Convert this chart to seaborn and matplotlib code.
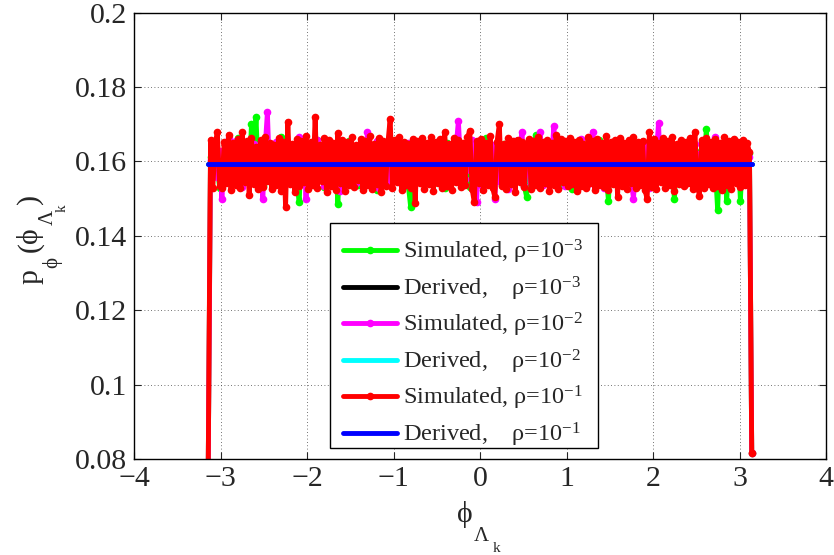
import numpy as np
import matplotlib
matplotlib.use("Agg")
import matplotlib.pyplot as plt
from matplotlib.patches import Rectangle
import seaborn as sns

# phase bins spanning [-pi, pi]
n_bins = 240
phase = np.linspace(-np.pi, np.pi, n_bins)

# simulated pdf values (one list per rho)
sim_rho_1e3 = [
    0.0790, 0.1612, 0.1560, 0.1636, 0.1583, 0.1529, 0.1617, 0.1571, 0.1650, 0.1594,
    0.1540, 0.1625, 0.1588, 0.1662, 0.1553, 0.1608, 0.1575, 0.1639, 0.1546, 0.1700,
    0.1599, 0.1720, 0.1562, 0.1620, 0.1534, 0.1645, 0.1581, 0.1604, 0.1557, 0.1631,
    0.1592, 0.1545, 0.1667, 0.1573, 0.1611, 0.1550, 0.1628, 0.1586, 0.1602, 0.1538,
    0.1492, 0.1644, 0.1579, 0.1615, 0.1556, 0.1633, 0.1590, 0.1547, 0.1658, 0.1570,
    0.1609, 0.1531, 0.1627, 0.1584, 0.1641, 0.1563, 0.1600, 0.1485, 0.1638, 0.1577,
    0.1614, 0.1549, 0.1655, 0.1589, 0.1568, 0.1624, 0.1537, 0.1603, 0.1580, 0.1647,
    0.1558, 0.1618, 0.1574, 0.1632, 0.1524, 0.1597, 0.1646, 0.1565, 0.1613, 0.1541,
    0.1660, 0.1585, 0.1606, 0.1552, 0.1628, 0.1591, 0.1569, 0.1642, 0.1535, 0.1478,
    0.1628, 0.1572, 0.1609, 0.1554, 0.1652, 0.1591, 0.1561, 0.1624, 0.1580, 0.1539,
    0.1642, 0.1598, 0.1563, 0.1617, 0.1528, 0.1649, 0.1586, 0.1607, 0.1547, 0.1631,
    0.1570, 0.1599, 0.1553, 0.1615, 0.1576, 0.1532, 0.1645, 0.1594, 0.1560, 0.1626,
    0.1584, 0.1543, 0.1663, 0.1578, 0.1610, 0.1551, 0.1637, 0.1559, 0.1600, 0.1538,
    0.1648, 0.1582, 0.1619, 0.1555, 0.1605, 0.1567, 0.1629, 0.1574, 0.1611, 0.1533,
    0.1505, 0.1640, 0.1593, 0.1557, 0.1670, 0.1587, 0.1562, 0.1634, 0.1579, 0.1546,
    0.1608, 0.1566, 0.1643, 0.1583, 0.1616, 0.1536, 0.1622, 0.1571, 0.1602, 0.1550,
    0.1525, 0.1638, 0.1590, 0.1566, 0.1623, 0.1544, 0.1611, 0.1580, 0.1647, 0.1558,
    0.1604, 0.1540, 0.1657, 0.1575, 0.1620, 0.1561, 0.1494, 0.1627, 0.1583, 0.1612,
    0.1548, 0.1636, 0.1589, 0.1554, 0.1640, 0.1577, 0.1605, 0.1534, 0.1650, 0.1593,
    0.1568, 0.1622, 0.1542, 0.1609, 0.1587, 0.1646, 0.1560, 0.1615, 0.1576, 0.1633,
    0.1551, 0.1601, 0.1569, 0.1639, 0.1582, 0.1498, 0.1626, 0.1573, 0.1610, 0.1545,
    0.1643, 0.1588, 0.1618, 0.1556, 0.1629, 0.1591, 0.1537, 0.1653, 0.1572, 0.1687,
    0.1598, 0.1552, 0.1625, 0.1579, 0.1470, 0.1641, 0.1584, 0.1608, 0.1495, 0.1632,
    0.1567, 0.1614, 0.1585, 0.1650, 0.1495, 0.1621, 0.1593, 0.1558, 0.1622, 0.0817,
]
sim_rho_1e2 = [
    0.0788, 0.1604, 0.1573, 0.1641, 0.1559, 0.1628, 0.1500, 0.1610, 0.1582, 0.1664,
    0.1543, 0.1597, 0.1655, 0.1570, 0.1615, 0.1532, 0.1639, 0.1584, 0.1606, 0.1548,
    0.1646, 0.1567, 0.1622, 0.1590, 0.1500, 0.1636, 0.1732, 0.1561, 0.1601, 0.1538,
    0.1652, 0.1576, 0.1617, 0.1526, 0.1631, 0.1588, 0.1553, 0.1644, 0.1579, 0.1609,
    0.1665, 0.1557, 0.1620, 0.1500, 0.1638, 0.1585, 0.1612, 0.1548, 0.1658, 0.1572,
    0.1603, 0.1535, 0.1627, 0.1591, 0.1564, 0.1643, 0.1580, 0.1609, 0.1520, 0.1630,
    0.1577, 0.1649, 0.1554, 0.1608, 0.1594, 0.1541, 0.1622, 0.1586, 0.1637, 0.1563,
    0.1680, 0.1549, 0.1617, 0.1574, 0.1654, 0.1530, 0.1609, 0.1581, 0.1626, 0.1537,
    0.1596, 0.1645, 0.1568, 0.1613, 0.1545, 0.1637, 0.1590, 0.1558, 0.1650, 0.1573,
    0.1618, 0.1551, 0.1633, 0.1599, 0.1564, 0.1640, 0.1586, 0.1611, 0.1542, 0.1629,
    0.1618, 0.1557, 0.1605, 0.1571, 0.1644, 0.1536, 0.1616, 0.1583, 0.1552, 0.1640,
    0.1709, 0.1586, 0.1611, 0.1552, 0.1629, 0.1578, 0.1657, 0.1560, 0.1490, 0.1644,
    0.1536, 0.1621, 0.1571, 0.1616, 0.1555, 0.1643, 0.1500, 0.1602, 0.1547, 0.1638,
    0.1612, 0.1586, 0.1525, 0.1621, 0.1588, 0.1654, 0.1557, 0.1627, 0.1680, 0.1534,
    0.1582, 0.1609, 0.1544, 0.1651, 0.1576, 0.1600, 0.1680, 0.1536, 0.1591, 0.1642,
    0.1560, 0.1614, 0.1695, 0.1548, 0.1627, 0.1583, 0.1606, 0.1533, 0.1647, 0.1570,
    0.1559, 0.1639, 0.1585, 0.1556, 0.1660, 0.1574, 0.1619, 0.1540, 0.1632, 0.1680,
    0.1603, 0.1547, 0.1645, 0.1588, 0.1530, 0.1632, 0.1577, 0.1560, 0.1615, 0.1543,
    0.1656, 0.1592, 0.1558, 0.1625, 0.1571, 0.1608, 0.1546, 0.1500, 0.1603, 0.1566,
    0.1607, 0.1549, 0.1645, 0.1588, 0.1530, 0.1632, 0.1577, 0.1615, 0.1703, 0.1556,
    0.1592, 0.1558, 0.1625, 0.1571, 0.1637, 0.1584, 0.1610, 0.1546, 0.1620, 0.1565,
    0.1637, 0.1584, 0.1611, 0.1551, 0.1648, 0.1580, 0.1619, 0.1538, 0.1629, 0.1574,
    0.1602, 0.1545, 0.1633, 0.1665, 0.1567, 0.1612, 0.1540, 0.1626, 0.1587, 0.1649,
    0.1558, 0.1617, 0.1580, 0.1642, 0.1549, 0.1610, 0.1585, 0.1630, 0.1611, 0.0817,
]
sim_rho_1e1 = [
    0.0785, 0.1658, 0.1528, 0.1646, 0.1680, 0.1535, 0.1529, 0.1652, 0.1541, 0.1672,
    0.1522, 0.1649, 0.1537, 0.1661, 0.1530, 0.1680, 0.1545, 0.1655, 0.1510, 0.1663,
    0.1539, 0.1640, 0.1525, 0.1658, 0.1532, 0.1666, 0.1548, 0.1650, 0.1527, 0.1644,
    0.1536, 0.1662, 0.1521, 0.1653, 0.1478, 0.1707, 0.1540, 0.1648, 0.1518, 0.1660,
    0.1533, 0.1656, 0.1544, 0.1669, 0.1526, 0.1651, 0.1538, 0.1720, 0.1529, 0.1645,
    0.1547, 0.1664, 0.1517, 0.1657, 0.1535, 0.1649, 0.1524, 0.1677, 0.1542, 0.1659,
    0.1520, 0.1652, 0.1538, 0.1665, 0.1531, 0.1643, 0.1549, 0.1660, 0.1523, 0.1654,
    0.1537, 0.1668, 0.1527, 0.1647, 0.1540, 0.1663, 0.1519, 0.1656, 0.1534, 0.1650,
    0.1715, 0.1530, 0.1659, 0.1545, 0.1667, 0.1522, 0.1653, 0.1536, 0.1648, 0.1528,
    0.1661, 0.1487, 0.1655, 0.1541, 0.1664, 0.1526, 0.1650, 0.1539, 0.1666, 0.1520,
    0.1652, 0.1543, 0.1660, 0.1529, 0.1680, 0.1535, 0.1647, 0.1524, 0.1662, 0.1546,
    0.1657, 0.1532, 0.1649, 0.1538, 0.1665, 0.1683, 0.1527, 0.1490, 0.1654, 0.1541,
    0.1661, 0.1523, 0.1650, 0.1537, 0.1668, 0.1530, 0.1505, 0.1653, 0.1700, 0.1534,
    0.1646, 0.1526, 0.1663, 0.1540, 0.1656, 0.1519, 0.1659, 0.1544, 0.1651, 0.1531,
    0.1648, 0.1660, 0.1525, 0.1655, 0.1538, 0.1667, 0.1529, 0.1652, 0.1542, 0.1658,
    0.1521, 0.1649, 0.1536, 0.1672, 0.1527, 0.1661, 0.1545, 0.1654, 0.1533, 0.1664,
    0.1539, 0.1651, 0.1520, 0.1658, 0.1535, 0.1647, 0.1528, 0.1666, 0.1543, 0.1655,
    0.1524, 0.1660, 0.1537, 0.1650, 0.1531, 0.1668, 0.1522, 0.1653, 0.1540, 0.1657,
    0.1505, 0.1662, 0.1534, 0.1649, 0.1526, 0.1659, 0.1541, 0.1665, 0.1530, 0.1652,
    0.1538, 0.1656, 0.1523, 0.1500, 0.1680, 0.1532, 0.1661, 0.1527, 0.1650, 0.1544,
    0.1663, 0.1529, 0.1655, 0.1536, 0.1667, 0.1521, 0.1648, 0.1539, 0.1659, 0.1533,
    0.1651, 0.1542, 0.1664, 0.1525, 0.1680, 0.1537, 0.1508, 0.1657, 0.1530, 0.1662,
    0.1540, 0.1653, 0.1528, 0.1660, 0.1535, 0.1650, 0.1522, 0.1666, 0.1538, 0.1655,
    0.1526, 0.1661, 0.1543, 0.1652, 0.1531, 0.1658, 0.1537, 0.1649, 0.1625, 0.0817,
]

# derived (uniform) pdf level, same for all rho
derived_level = [0.1592, 0.1592, 0.1592]

rho_exps = ["-3", "-2", "-1"]
sim_colors = ["#00ff00", "#ff00ff", "#ff0000"]
derived_colors = ["#000000", "#00ffff", "#0000ff"]

sns.set_style("ticks")
plt.rcParams["font.family"] = ["Liberation Serif", "DejaVu Serif"]
plt.rcParams["mathtext.fontset"] = "custom"
plt.rcParams["mathtext.rm"] = "Liberation Serif"
plt.rcParams["mathtext.it"] = "Liberation Serif"
plt.rcParams["mathtext.bf"] = "Liberation Serif:bold"

W, H = 834, 555
fig = plt.figure(figsize=(W / 100, H / 100), dpi=100)
ax = fig.add_axes([134 / W, 1 - 459 / H, 692 / W, 446.3 / H])

sims = [sim_rho_1e3, sim_rho_1e2, sim_rho_1e1]
for sim, lvl, e, cs, cd in zip(sims, derived_level, rho_exps, sim_colors, derived_colors):
    sns.lineplot(x=phase, y=sim, ax=ax, color=cs, linewidth=3.5, marker="o",
                 markersize=5.5, markeredgewidth=0,
                 label="Simulated, ρ=10$^{" + e + "}$")
    sns.lineplot(x=phase, y=np.full(n_bins, lvl), ax=ax, color=cd, linewidth=3.5,
                 label="Derived,    ρ=10$^{" + e + "}$")

ax.set_xlim(-4, 4)
ax.set_ylim(0.08, 0.2)
ax.set_xticks(np.arange(-4, 5, 1))
ax.set_yticks([0.08, 0.1, 0.12, 0.14, 0.16, 0.18, 0.2])
ax.set_yticklabels(["0.08", "0.1", "0.12", "0.14", "0.16", "0.18", "0.2"])
ax.set_xticklabels(["\u22124", "\u22123", "\u22122", "\u22121", "0", "1", "2", "3", "4"])
ax.grid(True, linestyle=(0, (1, 3)), color="#444444", linewidth=0.6)
ax.set_axisbelow(True)
ax.tick_params(direction="in", length=5, width=0.8, labelsize=21.5, top=True, right=True, pad=5)
for sp in ax.spines.values():
    sp.set_linewidth(1.0)
    sp.set_color("black")


def fpos(x, y):
    return x / W, 1 - y / H


# x label: phi with nested subscripts, MATLAB-style drops
for s, size, x, y in [("\u03d5", 21.5, 457, 522), ("\u039b", 15, 474, 541), ("k", 11, 493, 552)]:
    fig.text(*fpos(x, y), s, fontsize=size, ha="left", va="baseline")

# y label, rotated
for s, size, x, y in [("p", 21.5, 37, 284), ("\u03d5", 15, 57, 268), ("(", 21.5, 37, 252),
                      ("\u03d5", 21.5, 37, 243), ("\u039b", 15, 53, 225), ("k", 11, 66, 212),
                      (")", 21.5, 37, 204)]:
    fig.text(*fpos(x, y), s, fontsize=size, ha="left", va="baseline",
             rotation=90, rotation_mode="anchor")

# legend box drawn separately so its padding matches the MATLAB one
ax.add_patch(Rectangle(fpos(330, 448.3), 268 / W, 225.6 / H, transform=fig.transFigure,
                       facecolor="white", edgecolor="black", linewidth=1.0,
                       zorder=4, clip_on=False))
leg = ax.legend(loc="upper left", bbox_to_anchor=(330 / W, 1 - 450.5 / H, 268 / W, 225.6 / H),
                bbox_transform=fig.transFigure, mode="expand", fontsize=17.5, frameon=False,
                borderpad=0.55, handlelength=2.2, handletextpad=0.25, labelspacing=0.34,
                borderaxespad=0)

fig.savefig("out.png", dpi=100)
